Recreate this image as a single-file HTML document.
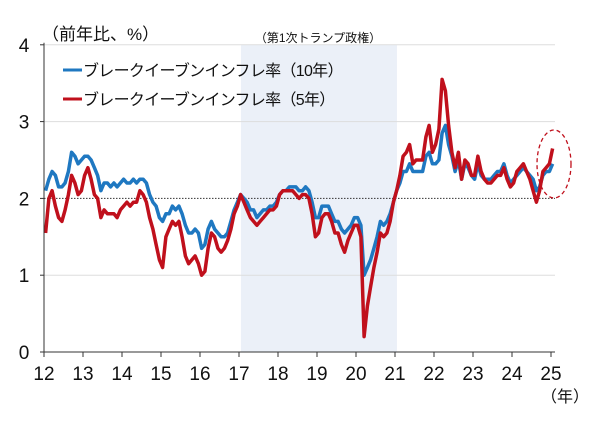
<!DOCTYPE html>
<html><head><meta charset="utf-8"><style>
body{margin:0;background:#fff;}
svg text{font-family:"Liberation Sans","Noto Sans CJK JP",sans-serif;fill:#111;}
</style></head><body>
<svg width="600" height="418" viewBox="0 0 600 418" id="chart">
<g id="layer"></g>
</svg>
<script>
const years=["12","13","14","15","16","17","18","19","20","21","22","23","24","25"];
const yTicks=[0,1,2,3,4];
const be10=[2.1,2.25,2.35,2.3,2.15,2.15,2.2,2.35,2.6,2.55,2.45,2.5,
2.55,2.55,2.5,2.4,2.3,2.1,2.2,2.2,2.15,2.2,2.15,2.2,
2.25,2.2,2.2,2.25,2.2,2.25,2.25,2.2,2.05,1.95,1.9,1.75,
1.7,1.8,1.8,1.9,1.85,1.9,1.8,1.65,1.55,1.55,1.6,1.55,
1.35,1.4,1.6,1.7,1.6,1.55,1.5,1.5,1.55,1.7,1.85,1.95,
2.05,2.0,1.95,1.85,1.85,1.75,1.8,1.85,1.85,1.9,1.9,1.95,
2.05,2.1,2.1,2.15,2.15,2.15,2.1,2.1,2.15,2.1,1.95,1.75,
1.75,1.9,1.9,1.9,1.8,1.7,1.7,1.6,1.55,1.6,1.65,1.75,
1.75,1.65,1.0,1.1,1.2,1.35,1.5,1.7,1.65,1.7,1.8,1.95,
2.1,2.2,2.35,2.35,2.45,2.35,2.35,2.35,2.35,2.55,2.6,2.45,
2.45,2.5,2.85,2.95,2.7,2.55,2.35,2.5,2.25,2.45,2.4,2.3,
2.25,2.45,2.3,2.25,2.25,2.25,2.3,2.35,2.35,2.45,2.3,2.2,
2.25,2.3,2.35,2.4,2.35,2.3,2.25,2.1,2.15,2.3,2.35,2.35,2.45];
const be5=[1.55,2.0,2.1,1.9,1.75,1.7,1.85,2.05,2.3,2.2,2.05,2.1,
2.3,2.4,2.25,2.05,2.0,1.75,1.85,1.8,1.8,1.8,1.75,1.85,
1.9,1.95,1.9,1.95,1.95,2.1,2.05,1.95,1.75,1.6,1.4,1.2,
1.1,1.5,1.6,1.7,1.65,1.7,1.5,1.25,1.15,1.2,1.25,1.15,
1.0,1.05,1.35,1.55,1.5,1.35,1.3,1.35,1.45,1.6,1.8,1.9,
2.05,1.95,1.85,1.75,1.7,1.65,1.7,1.75,1.8,1.85,1.85,1.9,
2.05,2.1,2.1,2.1,2.1,2.05,2.0,2.05,2.05,2.0,1.8,1.5,
1.55,1.75,1.8,1.8,1.7,1.55,1.55,1.4,1.3,1.45,1.55,1.65,
1.65,1.5,0.2,0.6,0.85,1.1,1.3,1.55,1.5,1.55,1.7,1.95,
2.1,2.3,2.55,2.6,2.7,2.45,2.5,2.5,2.5,2.8,2.95,2.6,
2.7,2.9,3.55,3.4,2.95,2.6,2.4,2.6,2.25,2.5,2.45,2.3,
2.3,2.55,2.35,2.25,2.2,2.2,2.25,2.3,2.3,2.4,2.25,2.15,
2.2,2.35,2.4,2.45,2.35,2.25,2.1,1.95,2.1,2.35,2.4,2.45,2.65];
const NS="http://www.w3.org/2000/svg";
const L=document.getElementById('layer');
const X0=44,PX=39,Y0=352,PY=76.8;
const xs=t=>X0+(t-2012)*PX;
const ys=v=>Y0-v*PY;
function mk(tag,attrs,txt){const e=document.createElementNS(NS,tag);for(const k in attrs)e.setAttribute(k,attrs[k]);if(txt!==undefined)e.textContent=txt;L.appendChild(e);return e;}
let e;
e=mk('rect',{x:xs(2017.05),y:ys(4),width:xs(2021.05)-xs(2017.05),height:ys(0)-ys(4),fill:'#ebf0f8'});


yTicks.forEach(v=>{
  if(v!==0&&v!==2){e=mk('line',{x1:X0,x2:555,y1:ys(v),y2:ys(v),stroke:'#dddddd','stroke-width':1});
  
  }
  e=mk('text',{x:24,y:ys(v)+7,'text-anchor':'middle','font-size':19},String(v));
  
  
  e=mk('line',{x1:X0-4,x2:X0,y1:ys(v),y2:ys(v),stroke:'#333'});
  
  
});
e=mk('line',{x1:X0,x2:555,y1:ys(2),y2:ys(2),stroke:'#333','stroke-width':1,'stroke-dasharray':'1.5,1.5'});


years.forEach((y,i)=>{
  const x=xs(2012+i);
  e=mk('line',{x1:x,x2:x,y1:Y0,y2:Y0+5,stroke:'#333'});
  
  
  e=mk('text',{x:x,y:380,'text-anchor':'middle','font-size':19},y);
  
  
});
function series(arr,color,name){
  const pts=arr.map((v,i)=>xs(2012+(i+0.5)/12).toFixed(1)+','+ys(v).toFixed(1)).join(' ');
  e=mk('polyline',{points:pts,fill:'none',stroke:color,'stroke-width':3.5,'stroke-linejoin':'round'});
  
  
}
series(be10,'#1f78c1','series-10y');
series(be5,'#c0101c','series-5y');
e=mk('line',{x1:X0,x2:X0,y1:ys(4)-2,y2:Y0,stroke:'#333'});


e=mk('line',{x1:X0,x2:555,y1:Y0,y2:Y0,stroke:'#333'});


e=mk('ellipse',{cx:554,cy:164,rx:17,ry:34,fill:'none',stroke:'#c0101c','stroke-width':1.3,'stroke-dasharray':'4,3'});


e=mk('text',{x:42,y:40,'font-size':17},'（前年比、%）');


e=mk('text',{x:318,y:42,'text-anchor':'middle','font-size':12},'（第1次トランプ政権）');


e=mk('text',{x:565,y:402,'text-anchor':'middle','font-size':16},'（年）');


[['#1f78c1','ブレークイーブンインフレ率（10年）',70],['#c0101c','ブレークイーブンインフレ率（5年）',99]].forEach(([c,t,y])=>{
  e=mk('line',{x1:63,x2:82,y1:y,y2:y,stroke:c,'stroke-width':3});
  
  
  e=mk('text',{x:83,y:y+6,'font-size':16,'letter-spacing':'-0.7'},t);
  
  
});
</script>
</body></html>
